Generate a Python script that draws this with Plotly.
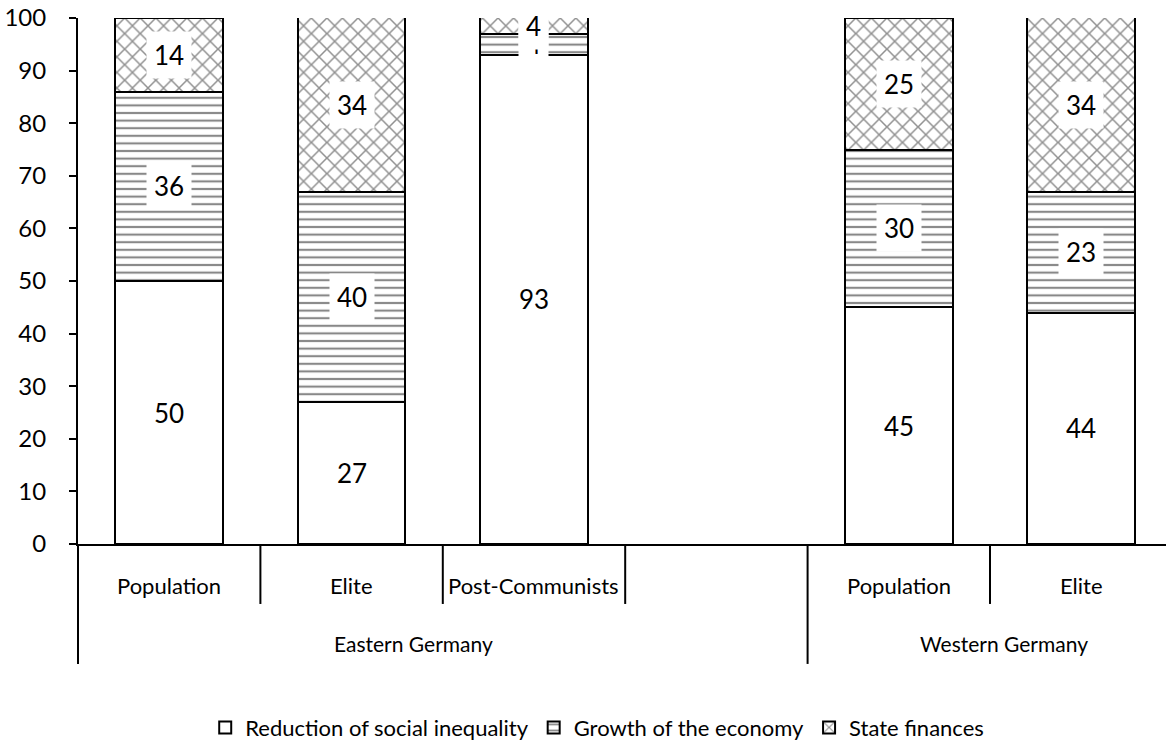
import plotly.graph_objects as go

# ---- data ----
categories = ["Population", "Elite", "Post-Communists", "", "Population", "Elite"]
groups = ["Eastern Germany", "Eastern Germany", "Eastern Germany", "Eastern Germany",
          "Western Germany", "Western Germany"]
series_names = ["Reduction of social inequality", "Growth of the economy", "State finances"]
reduction = [50, 27, 93, None, 45, 44]
growth = [36, 40, 4, None, 30, 23]
state = [14, 34, 4, None, 25, 34]
y_ticks = [0, 10, 20, 30, 40, 50, 60, 70, 80, 90, 100]

FONT = "Lato"
x = list(range(len(categories)))
x_range = [-0.5, 5.465]
BAR_W = 0.59

fig = go.Figure()
fig.add_trace(go.Bar(
    x=x, y=reduction, name=series_names[0], width=BAR_W,
    marker=dict(color="white", line=dict(color="black", width=2)),
))
fig.add_trace(go.Bar(
    x=x, y=growth, name=series_names[1], width=BAR_W,
    marker=dict(color="white", line=dict(color="black", width=2),
                pattern=dict(shape="-", fgcolor="#111111", bgcolor="white",
                             size=7.6, solidity=0.28, fillmode="overlay")),
))
fig.add_trace(go.Bar(
    x=x, y=state, name=series_names[2], width=BAR_W,
    marker=dict(color="white", line=dict(color="black", width=2),
                pattern=dict(shape="x", fgcolor="#222222", bgcolor="white",
                             size=11, solidity=0.26, fillmode="overlay")),
))

# ---- data labels with white boxes ----
annotations = []
base = [0] * len(x)
for vals in (reduction, growth, state):
    for i, v in enumerate(vals):
        if v is None:
            continue
        top = base[i] + v
        vis_top = min(top, 100)
        annotations.append(dict(
            x=x[i], y=(base[i] + vis_top) / 2, xref="x", yref="y",
            text=str(v), showarrow=False, bgcolor="white", borderpad=7,
            font=dict(family=FONT, size=26, color="black"),
        ))
        base[i] = top

# ---- hierarchical category axis labels ----
for i, c in enumerate(categories):
    if c:
        annotations.append(dict(
            x=x[i], y=-0.078, xref="x", yref="paper", text=c, showarrow=False,
            font=dict(family=FONT, size=22, color="black"), yanchor="middle",
        ))

group_names = []
for g in groups:
    if g not in group_names:
        group_names.append(g)
group_shift = {"Eastern Germany": -29, "Western Germany": 14}
for g in group_names:
    idx = [i for i, gg in enumerate(groups) if gg == g]
    centre = (idx[0] + idx[-1]) / 2
    annotations.append(dict(
        x=centre, y=-0.19, xref="x", yref="paper", text=g, showarrow=False,
        xshift=group_shift.get(g, 0),
        font=dict(family=FONT, size=21, color="black"), yanchor="middle",
    ))

shapes = []
n = len(categories)
for i in range(n + 1):
    b = i - 0.5
    px = (b - x_range[0]) / (x_range[1] - x_range[0])
    if px > 1.0:
        continue
    long_line = (i == 0) or (i == n) or (groups[i - 1] != groups[i])
    shapes.append(dict(
        type="line", xref="paper", yref="paper", x0=px, x1=px,
        y0=0, y1=-0.228 if long_line else -0.114,
        line=dict(color="black", width=2),
    ))

fig.update_layout(
    width=1166, height=744,
    margin=dict(l=78, r=0, t=18, b=200),
    paper_bgcolor="white", plot_bgcolor="white",
    barmode="stack", bargap=0,
    font=dict(family=FONT, color="black"),
    showlegend=True,
    legend=dict(
        orientation="h", xref="container", yref="container",
        x=0.176, xanchor="left", y=0.022, yanchor="middle",
        font=dict(family=FONT, size=22, color="black"),
        traceorder="normal", itemwidth=30,
    ),
    annotations=annotations,
    shapes=shapes,
)
fig.update_xaxes(
    range=x_range, showticklabels=False, showgrid=False, zeroline=False,
    showline=True, linecolor="black", linewidth=2, ticks="",
)
fig.update_yaxes(
    range=[0, 100], tickvals=y_ticks, showgrid=False, zeroline=False,
    showline=True, linecolor="black", linewidth=2,
    ticks="outside", ticklen=7, tickwidth=2, tickcolor="black",
    ticklabelstandoff=18,
    tickfont=dict(family=FONT, size=24, color="black"),
)

fig.write_html("out.html")
